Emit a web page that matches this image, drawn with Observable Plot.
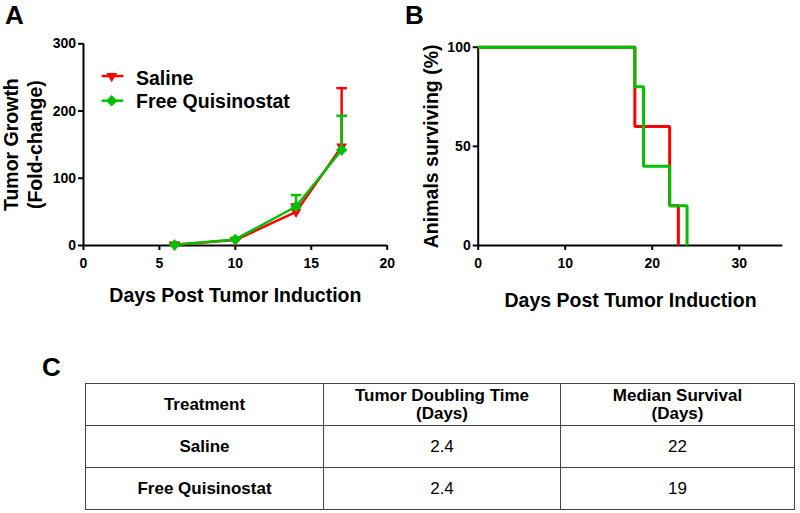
<!DOCTYPE html>
<html>
<head>
<meta charset="utf-8">
<script src="https://cdn.jsdelivr.net/npm/d3@7"></script>
<script src="https://cdn.jsdelivr.net/npm/@observablehq/plot@0.6"></script>
<style>
html, body { margin: 0; padding: 0; background: #fff; }
#root { position: relative; width: 800px; height: 513px; overflow: hidden; font-family: "Liberation Sans", Arial, sans-serif; color: #000; }
.plabel { position: absolute; font-weight: bold; font-size: 26px; line-height: 1; }
#plotA { position: absolute; left: 0; top: 0; }
#plotB { position: absolute; left: 400px; top: 0; }
#tbl { position: absolute; left: 85px; top: 383px; border-collapse: collapse; font-size: 17px; table-layout: fixed; }
#tbl td { border: 1.5px solid #444; text-align: center; vertical-align: middle; height: 41px; padding: 0; line-height: 18px; }
#tbl td.b { font-weight: bold; }
</style>
</head>
<body>
<div id="root">
  <div class="plabel" style="left:5px;top:2px;">A</div>
  <div class="plabel" style="left:405px;top:2px;">B</div>
  <div class="plabel" style="left:42px;top:354px;">C</div>
  <div id="plotA"></div>
  <div id="plotB"></div>
  <table id="tbl"></table>
</div>
<script>
// ---- Data ----
const seriesNames = ["Saline", "Free Quisinostat"];
const seriesColors = ["#ff0000", "#00c000"];

const days = [6, 10, 14, 17];
const salineMean = [1, 8, 50, 147];
const salineSem = [3, 3, 11, 87];
const quisMean = [1, 9, 58, 142];
const quisSem = [1, 2, 17, 51];

const growthTicksX = [0, 5, 10, 15, 20];
const growthTicksY = [0, 100, 200, 300];

const survSalineDays = [0, 18, 22, 23];
const survSalinePct = [100, 60, 20, 0];
const survQuisDays = [0, 18, 19, 22, 24];
const survQuisPct = [100, 80, 40, 20, 0];

const survTicksX = [0, 10, 20, 30];
const survTicksY = [0, 50, 100];

const tableHeader = ["Treatment", "Tumor Doubling Time\n(Days)", "Median Survival\n(Days)"];
const tableTreatments = ["Saline", "Free Quisinostat"];
const doublingTime = ["2.4", "2.4"];
const medianSurvival = ["22", "19"];

// ---- Symbols ----
const triDown = { draw(ctx, size) { const s = Math.sqrt(size / Math.PI); const w = 1.115 * s, h = 1.94 * s;
  ctx.moveTo(0, 2 * h / 3); ctx.lineTo(-w, -h / 3); ctx.lineTo(w, -h / 3); ctx.closePath(); } };
const diamond = { draw(ctx, size) { const s = Math.sqrt(size / Math.PI);
  ctx.moveTo(0, -s); ctx.lineTo(s, 0); ctx.lineTo(0, s); ctx.lineTo(-s, 0); ctx.closePath(); } };
const capSym = { draw(ctx, size) { const s = Math.sqrt(size / Math.PI); ctx.moveTo(-s, 0); ctx.lineTo(s, 0); } };
const seriesSymbols = [triDown, diamond];
const seriesR = [4.8, 5.7];

const means = [salineMean, quisMean];
const sems = [salineSem, quisSem];
const growth = seriesNames.map((s, si) => days.map((d, i) => ({ series: s, day: d, mean: means[si][i], sem: sems[si][i] })));

const font = "'Liberation Sans', Arial, sans-serif";
const styleObj = { fontFamily: font, fontSize: "14px", fontWeight: "bold", color: "#000", background: "transparent", overflow: "visible" };
const titleSize = 19.5;

// ---- Panel A ----
const marksA = [
  Plot.axisX({ ticks: growthTicksX, tickSize: 5, tickPadding: 8, strokeWidth: 2, label: null }),
  Plot.axisY({ ticks: growthTicksY, tickSize: 5, tickPadding: 2.5, strokeWidth: 2, label: null }),
  Plot.ruleY([0], { strokeWidth: 2 }),
  Plot.ruleX([0], { strokeWidth: 2 }),
  Plot.text(["Days Post Tumor Induction"], { text: d => d, frameAnchor: "bottom", textAnchor: "middle", lineAnchor: "bottom", dy: 56, fontSize: titleSize, fontWeight: "bold" }),
  Plot.text(["Tumor Growth\n(Fold-change)"], { text: d => d, frameAnchor: "left", textAnchor: "middle", rotate: -90, lineAnchor: "bottom", lineHeight: 1.23, dx: -42, fontSize: titleSize, fontWeight: "bold" })
];
growth.forEach((rows, si) => {
  const c = seriesColors[si];
  marksA.push(
    Plot.line(rows, { x: "day", y: "mean", stroke: c, strokeWidth: 2.5 }),
    Plot.ruleX(rows, { x: "day", y1: "mean", y2: d => d.mean + d.sem, stroke: c, strokeWidth: 2.5 }),
    Plot.dot(rows, { x: "day", y: d => d.mean + d.sem, symbol: capSym, r: 5.3, stroke: c, strokeWidth: 2.5, fill: "none" }),
    Plot.dot(rows, { x: "day", y: "mean", symbol: seriesSymbols[si], r: seriesR[si], fill: c, stroke: "none" })
  );
});
const plotA = Plot.plot({
  width: 400, height: 320,
  marginLeft: 83, marginRight: 13.3, marginTop: 43.3, marginBottom: 75,
  x: { domain: [0, 20] },
  y: { domain: [0, 300] },
  style: styleObj,
  marks: marksA
});
document.getElementById("plotA").appendChild(plotA);

// legend inside panel A
{
  const svg = d3.select(plotA);
  const g = svg.append("g");
  const lineY = [76, 100.7];
  const textY = [85, 108.3];
  seriesNames.forEach((name, i) => {
    g.append("line").attr("x1", 101.7).attr("x2", 123.3).attr("y1", lineY[i]).attr("y2", lineY[i])
      .attr("stroke", seriesColors[i]).attr("stroke-width", 2.5);
    g.append("path").attr("d", d3.symbol(seriesSymbols[i], Math.PI * seriesR[i] * seriesR[i])())
      .attr("transform", `translate(111.7,${lineY[i]})`).attr("fill", seriesColors[i]);
    g.append("text").attr("x", 136).attr("y", textY[i]).attr("text-anchor", "start")
      .style("font-size", titleSize + "px").style("font-weight", "bold")
      .attr("fill", "#000").text(name);
  });
}

// ---- Panel B ----
const surv = [
  survSalineDays.map((d, i) => ({ day: d, pct: survSalinePct[i] })),
  survQuisDays.map((d, i) => ({ day: d, pct: survQuisPct[i] }))
];
const marksB = [
  Plot.axisX({ ticks: survTicksX, tickSize: 5, tickPadding: 8, strokeWidth: 2, label: null }),
  Plot.axisY({ ticks: survTicksY, tickSize: 5, tickPadding: 2.5, strokeWidth: 2, label: null }),
  Plot.ruleY([0], { strokeWidth: 2 }),
  Plot.ruleX([0], { strokeWidth: 2 }),
  Plot.text(["Days Post Tumor Induction"], { text: d => d, frameAnchor: "bottom", textAnchor: "middle", lineAnchor: "bottom", dy: 61, fontSize: titleSize, fontWeight: "bold" }),
  Plot.text(["Animals surviving (%)"], { text: d => d, frameAnchor: "left", textAnchor: "middle", rotate: -90, lineAnchor: "bottom", dx: -40.2, fontSize: titleSize, fontWeight: "bold" })
];
surv.forEach((rows, si) => {
  marksB.push(Plot.line(rows, { x: "day", y: "pct", curve: "step-after", stroke: seriesColors[si], strokeWidth: 3, strokeLinejoin: "miter", strokeLinecap: "butt" }));
});
const plotB = Plot.plot({
  width: 400, height: 320,
  marginLeft: 77.7, marginRight: 17.7, marginTop: 46.7, marginBottom: 75,
  x: { domain: [0, 35] },
  y: { domain: [0, 100] },
  style: styleObj,
  marks: marksB
});
document.getElementById("plotB").appendChild(plotB);

// ---- Table C ----
{
  const tbl = d3.select("#tbl");
  const colW = [238, 237, 234];
  tbl.append("colgroup").selectAll("col").data(colW).join("col").style("width", d => d + "px");
  const hr = tbl.append("tr");
  tableHeader.forEach(h => {
    const td = hr.append("td").attr("class", "b");
    h.split("\n").forEach((line, i) => { if (i) td.append("br"); td.append("span").text(line); });
  });
  tableTreatments.forEach((t, i) => {
    const tr = tbl.append("tr");
    tr.append("td").attr("class", "b").text(t);
    tr.append("td").text(doublingTime[i]);
    tr.append("td").text(medianSurvival[i]);
  });
}
</script>
</body>
</html>
